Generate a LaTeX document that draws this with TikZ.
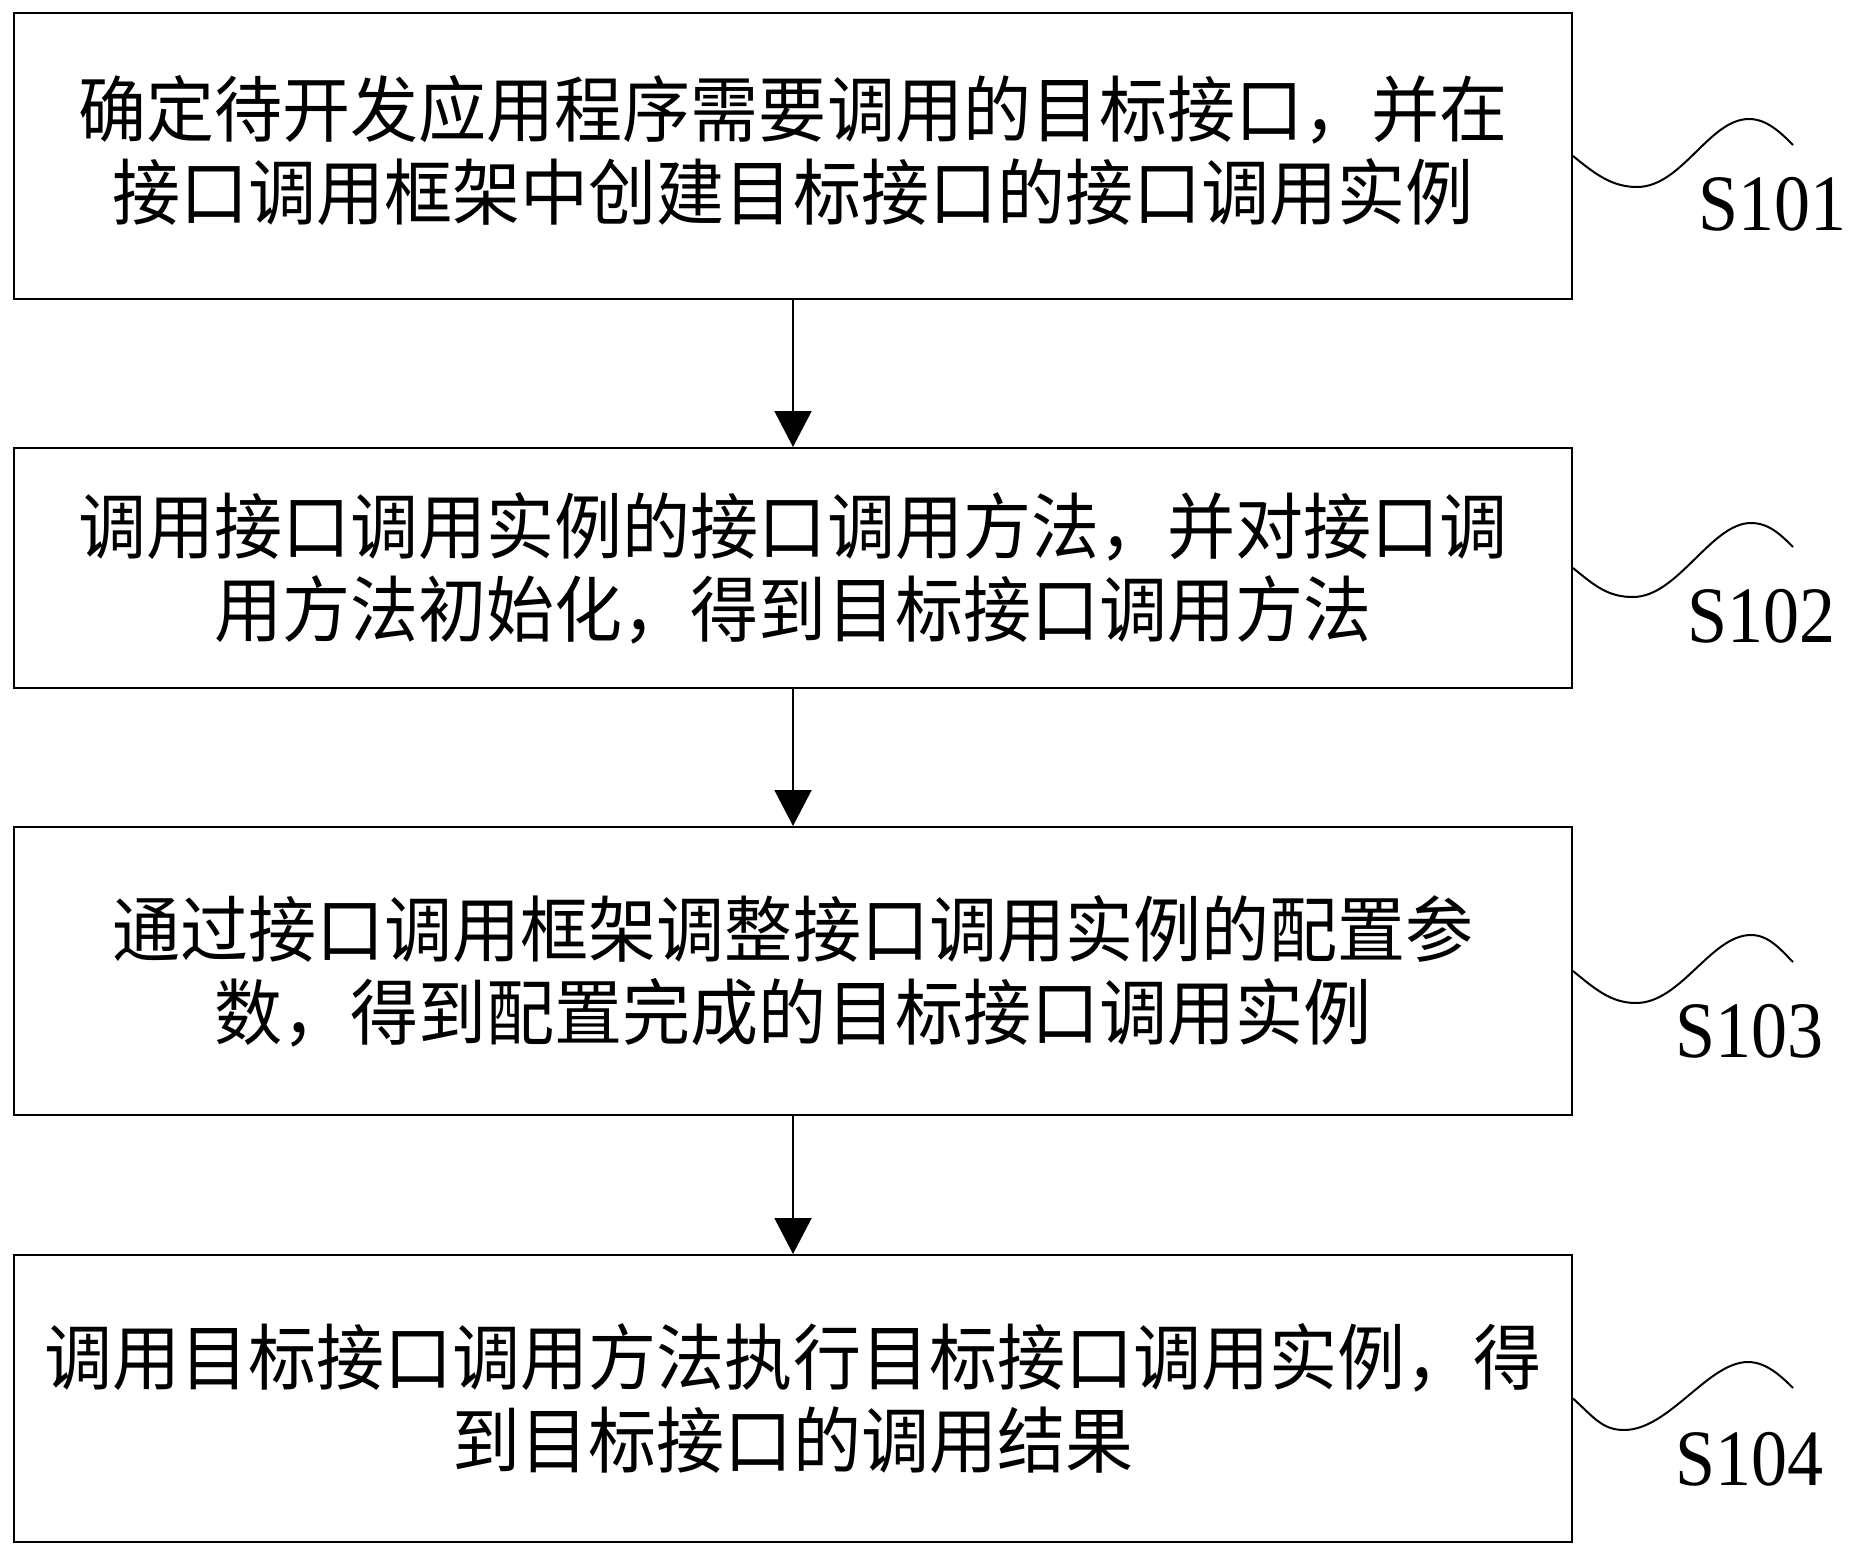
\documentclass[tikz,border=0pt]{standalone}
\usepackage{fontspec}
\newfontfamily\cjk[FakeStretch=0.945]{Noto Sans CJK SC}
\newfontfamily\lab[FakeStretch=0.9]{Liberation Serif}
\usetikzlibrary{arrows.meta}
\begin{document}
\begin{tikzpicture}[x=1pt,y=-1pt,
  stepbox/.style={draw,line width=2pt,minimum width=1558pt,inner sep=0pt,align=center,
    font=\cjk\fontsize{72}{83}\selectfont},
  flow/.style={line width=2pt,-{Triangle[width=37pt,length=36pt]}},
  wave/.style={line width=2pt},
  lbl/.style={anchor=base west,inner sep=0pt,font=\lab\fontsize{80}{80}\selectfont}]
\useasboundingbox[fill=white] (0,0) rectangle (1857,1555);

\node[stepbox,minimum height=286pt] (b1) at (793,156)
  {确定待开发应用程序需要调用的目标接口，并在\\接口调用框架中创建目标接口的接口调用实例\vphantom{g}\rule{0pt}{12pt}};
\node[stepbox,minimum height=240pt] (b2) at (793,568)
  {调用接口调用实例的接口调用方法，并对接口调\\用方法初始化，得到目标接口调用方法};
\node[stepbox,minimum height=288pt] (b3) at (793,971)
  {通过接口调用框架调整接口调用实例的配置参\\数，得到配置完成的目标接口调用实例};
\node[stepbox,minimum height=287pt] (b4) at (793,1398.5)
  {调用目标接口调用方法执行目标接口调用实例，得\\到目标接口的调用结果};

\draw[flow] (b1) -- (b2);
\draw[flow] (b2) -- (b3);
\draw[flow] (b3) -- (b4);

\draw[wave] (b1.east) .. controls +(22,18) and +(-25,0) .. ++(64,31)
  .. controls +(45,0) and +(-40,0) .. ++(112,-68)
  .. controls +(18,0) and +(-12,-12) .. ++(44,26);
\draw[wave] (b2.east) .. controls +(22,18) and +(-25,0) .. ++(60,29)
  .. controls +(45,0) and +(-40,0) .. ++(118,-74)
  .. controls +(18,0) and +(-12,-12) .. ++(42,24);
\draw[wave] (b3.east) .. controls +(22,18) and +(-25,0) .. ++(63,32)
  .. controls +(45,0) and +(-40,0) .. ++(115,-68)
  .. controls +(18,0) and +(-12,-12) .. ++(42,27);
\draw[wave] (b4.east) .. controls +(20,18) and +(-22,0) .. ++(51,31.5)
  .. controls +(45,0) and +(-40,0) .. ++(124,-68)
  .. controls +(18,0) and +(-12,-12) .. ++(45,26);

\node[lbl] (s1) at (1698,230) {S101};
\node[lbl] (s2) at (1687,642) {S102};
\node[lbl] (s3) at (1675,1057) {S103};
\node[lbl] (s4) at (1675,1485) {S104};
\end{tikzpicture}
\end{document}
